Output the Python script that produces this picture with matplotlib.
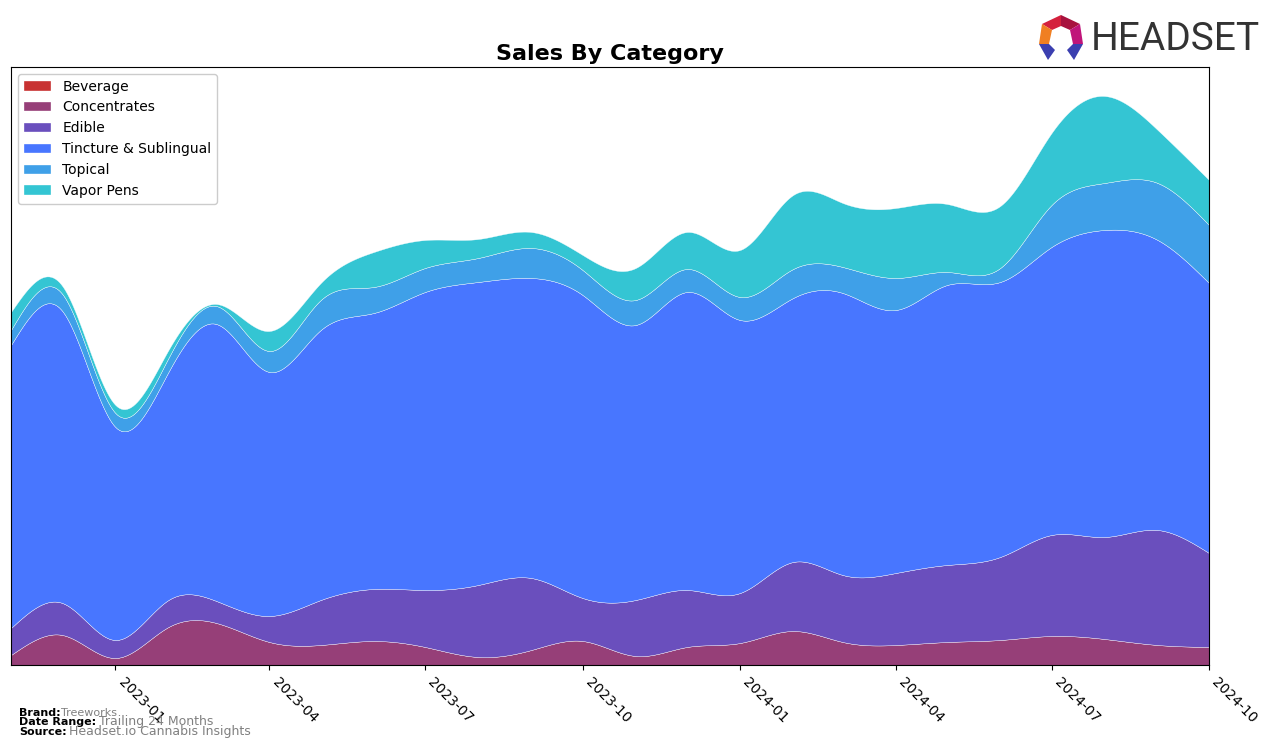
import numpy as np
import pandas as pd
import matplotlib
matplotlib.use("Agg")
import matplotlib.pyplot as plt
import matplotlib.dates as mdates
from matplotlib.patches import Polygon

# monthly sales by category (arbitrary units)
months = pd.date_range("2022-11-01", "2024-10-01", freq="MS")
beverage = [0] * 24
concentrates = [10, 30, 7, 38, 42, 23, 20, 24, 18, 8, 15, 24, 9, 18, 22, 34, 23, 20, 23, 25, 29, 26, 20, 18]
edible = [27, 32, 18, 27, 22, 26, 45, 52, 57, 72, 72, 43, 56, 57, 50, 69, 67, 72, 77, 83, 101, 102, 115, 94]
tincture = [283, 292, 213, 228, 277, 244, 270, 276, 298, 303, 300, 303, 275, 298, 273, 264, 282, 263, 280, 275, 288, 307, 290, 270]
topical = [15, 17, 14, 14, 18, 21, 30, 26, 24, 24, 30, 25, 25, 23, 23, 29, 26, 32, 13, 14, 42, 47, 57, 58]
vapor = [18, 8, 8, 8, 2, 20, 17, 35, 28, 19, 16, 15, 32, 37, 47, 74, 64, 70, 68, 62, 72, 87, 53, 45]

labels = ["Beverage", "Concentrates", "Edible", "Tincture & Sublingual", "Topical", "Vapor Pens"]
colors = ["#c83232", "#963f78", "#6a4fbd", "#4876ff", "#3fa0e8", "#34c5d3"]


def spline(x, y, xs):
    """natural cubic spline, just for drawing smooth edges"""
    x = np.asarray(x, float); y = np.asarray(y, float)
    n = len(x); h = np.diff(x)
    A = np.zeros((n, n)); b = np.zeros(n)
    A[0, 0] = A[-1, -1] = 1
    for i in range(1, n - 1):
        A[i, i - 1] = h[i - 1]; A[i, i] = 2 * (h[i - 1] + h[i]); A[i, i + 1] = h[i]
        b[i] = 6 * ((y[i + 1] - y[i]) / h[i] - (y[i] - y[i - 1]) / h[i - 1])
    M = np.linalg.solve(A, b)
    k = np.clip(np.searchsorted(x, xs) - 1, 0, n - 2)
    t0, t1 = xs - x[k], x[k + 1] - xs
    return (M[k] * t1 ** 3 + M[k + 1] * t0 ** 3) / (6 * h[k]) \
        + (y[k] / h[k] - M[k] * h[k] / 6) * t1 + (y[k + 1] / h[k] - M[k + 1] * h[k] / 6) * t0


xd = mdates.date2num(months)
xs = np.linspace(xd[0], xd[-1], 600)
series = [beverage, concentrates, edible, tincture, topical, vapor]
ys = [np.clip(spline(xd, s, xs), 0, None) for s in series]

fig = plt.figure(figsize=(12.76, 7.48), dpi=100)
ax = fig.add_axes([11 / 1276, 83 / 748, 1198 / 1276, 598 / 748])
ax.stackplot(xs, *ys, labels=labels, colors=colors, edgecolor="white", linewidth=0.25)
ax.set_xlim(xd[0], xd[-1])
ax.set_ylim(0, 598)
ax.set_yticks([])
ticks = pd.date_range("2023-01-01", "2024-10-01", freq="3MS")
ax.set_xticks(mdates.date2num(ticks))
ax.set_xticklabels([d.strftime("%Y-%m") for d in ticks], rotation=-45, ha="left", fontsize=10)
ax.set_title("Sales By Category", fontsize=16, fontweight="bold", pad=5)
ax.legend(loc="upper left", fontsize=10, framealpha=1)

# footer
fig.text(19 / 1276, 1 - 713 / 748, "Brand:", fontsize=8, fontweight="bold", va="center")
fig.text(61 / 1276, 1 - 713 / 748, "Treeworks", fontsize=8, color="gray", va="center")
fig.text(19 / 1276, 1 - 722 / 748, "Date Range:", fontsize=8, fontweight="bold", va="center")
fig.text(99 / 1276, 1 - 722 / 748, "Trailing 24 Months", fontsize=9, color="gray", va="center")
fig.text(19 / 1276, 1 - 732 / 748, "Source:", fontsize=8, fontweight="bold", va="center")
fig.text(69 / 1276, 1 - 732 / 748, "Headset.io Cannabis Insights", fontsize=9, color="gray", va="center")

# logo
def P(pts):
    return [(px / 1276, 1 - py / 748) for px, py in pts]

for pts, col in [([(1042, 24), (1061, 15), (1061, 26), (1052, 30)], "#d4213d"),
                 ([(1061, 15), (1080, 24), (1070, 30), (1061, 26)], "#a8123e"),
                 ([(1080, 24), (1083, 44), (1073, 44), (1070, 30)], "#c0157a"),
                 ([(1042, 24), (1052, 30), (1049, 44), (1039, 44)], "#f07f22"),
                 ([(1039, 44), (1049, 44), (1055, 50), (1048, 60)], "#3b3fb0"),
                 ([(1083, 44), (1073, 44), (1067, 50), (1074, 60)], "#3b3fb0")]:
    fig.add_artist(Polygon(P(pts), closed=True, transform=fig.transFigure, color=col, lw=0))
fig.text(1091 / 1276, 1 - 39 / 748, "HEADSET", fontsize=28, color="#333333", va="center",
         family=["Roboto", "DejaVu Sans"])

fig.savefig("out.png", dpi=100)
